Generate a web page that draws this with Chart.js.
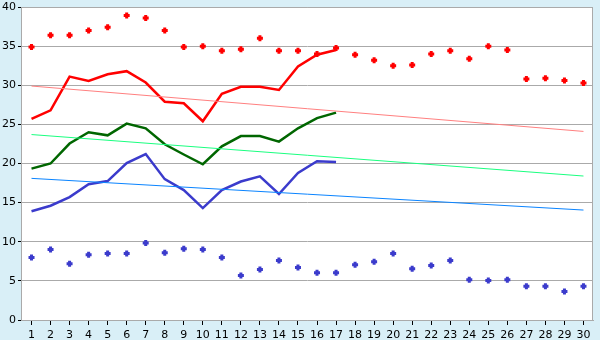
<!DOCTYPE html>
<html>
<head>
<meta charset="utf-8">
<script src="https://cdn.jsdelivr.net/npm/chart.js@4/dist/chart.umd.min.js"></script>
<style>
  body { margin: 0; background: #d9eff7; }
  #wrap { width: 600px; height: 340px; }
</style>
</head>
<body>
<div id="wrap"><canvas id="chart" width="600" height="340"></canvas></div>
<script>
const days = [];
for (let d = 1; d <= 30; d++) days.push(d);

// daily highs / lows (markers)
const highs = [34.9, 36.4, 36.4, 37.0, 37.4, 38.9, 38.6, 37.0, 34.9, 35.0,
               34.4, 34.6, 36.0, 34.4, 34.4, 34.0, 34.75, 33.9, 33.2, 32.5,
               32.6, 34.0, 34.4, 33.4, 35.0, 34.5, 30.8, 30.9, 30.6, 30.3];
const lows = [8.0, 9.0, 7.2, 8.35, 8.5, 8.5, 9.85, 8.6, 9.1, 9.0,
              8.0, 5.7, 6.45, 7.6, 6.7, 6.05, 6.05, 7.05, 7.45, 8.5,
              6.55, 6.95, 7.6, 5.15, 5.05, 5.15, 4.3, 4.3, 3.65, 4.3];

// lines, first 17 days
const maxLine = [25.7, 26.8, 31.1, 30.55, 31.4, 31.8, 30.35, 27.9, 27.7, 25.4,
                 28.9, 29.8, 29.8, 29.4, 32.4, 33.9, 34.5];
const avgLine = [19.35, 20.0, 22.55, 24.0, 23.6, 25.1, 24.5, 22.45, 21.15, 19.9,
                 22.2, 23.5, 23.5, 22.8, 24.5, 25.8, 26.5];
const minLine = [13.9, 14.6, 15.7, 17.35, 17.75, 20.05, 21.2, 18.0, 16.6, 14.3,
                 16.6, 17.7, 18.35, 16.1, 18.8, 20.3, 20.2];

// trend lines: value at day 1 and day 30
const trendMax = [29.9, 24.1];
const trendAvg = [23.7, 18.4];
const trendMin = [18.1, 14.05];

const yTicks = [0, 5, 10, 15, 20, 25, 30, 35, 40];

const pts = arr => arr.map((v, i) => ({ x: days[i], y: v }));
const ends = arr => [{ x: days[0], y: arr[0] }, { x: days[days.length - 1], y: arr[1] }];

const plotBg = {
  id: 'plotBg',
  beforeDraw(chart) {
    const { ctx, chartArea: a } = chart;
    ctx.save();
    ctx.fillStyle = '#ffffff';
    ctx.fillRect(a.left, a.top, a.right - a.left, a.bottom - a.top);
    ctx.restore();
  },
  afterDatasetsDraw(chart) {
    const { ctx, chartArea: a } = chart;
    ctx.save();
    ctx.strokeStyle = '#aaaaaa';
    ctx.lineWidth = 1;
    ctx.beginPath();
    ctx.moveTo(a.left, a.top + 0.5);
    ctx.lineTo(a.right - 0.5, a.top + 0.5);
    ctx.lineTo(a.right - 0.5, a.bottom);
    ctx.stroke();
    ctx.restore();
  }
};

const lineDs = (data, color, width) => ({
  type: 'line', data: data, borderColor: color, borderWidth: width,
  pointRadius: 0, tension: 0, fill: false
});
const dotDs = (data, color) => ({
  type: 'scatter', data: data, showLine: false, pointStyle: 'cross',
  pointRadius: 3, pointBorderWidth: 3, borderColor: color, backgroundColor: color
});

new Chart(document.getElementById('chart'), {
  type: 'line',
  data: {
    datasets: [
      lineDs(ends(trendMax), '#ff8080', 1),
      lineDs(ends(trendAvg), '#1aff80', 1),
      lineDs(ends(trendMin), '#0a84ff', 1),
      lineDs(pts(maxLine), '#ff0000', 2.5),
      lineDs(pts(avgLine), '#006600', 2.5),
      lineDs(pts(minLine), '#3b3bcc', 2.5),
      dotDs(pts(highs), '#ff0000'),
      dotDs(pts(lows), '#3b3bcc')
    ]
  },
  options: {
    responsive: false,
    animation: false,
    layout: { padding: 0 },
    plugins: { legend: { display: false }, tooltip: { enabled: false } },
    scales: {
      x: {
        type: 'linear', min: 0.5, max: 30.5,
        afterBuildTicks: axis => { axis.ticks = days.map(d => ({ value: d })); },
        afterFit: axis => { axis.paddingRight = 5; axis.paddingLeft = 0; axis.height = 20; },
        grid: { drawOnChartArea: false, drawTicks: true, tickLength: 5, tickColor: '#000000' },
        border: { color: '#aaaaaa' },
        ticks: { color: '#000000', padding: 4, maxRotation: 0, autoSkip: false,
                 font: { family: 'DejaVu Sans', size: 11 } }
      },
      y: {
        min: 0, max: 40,
        afterBuildTicks: axis => { axis.ticks = yTicks.map(v => ({ value: v })); },
        afterFit: axis => { axis.paddingTop = 5; axis.paddingBottom = 0; },
        grid: { color: '#aaaaaa', drawTicks: true, tickLength: 4, tickColor: '#000000' },
        border: { color: '#aaaaaa' },
        ticks: { color: '#000000', padding: 2, font: { family: 'DejaVu Sans', size: 11 } }
      }
    }
  },
  plugins: [plotBg]
});
</script>
</body>
</html>
